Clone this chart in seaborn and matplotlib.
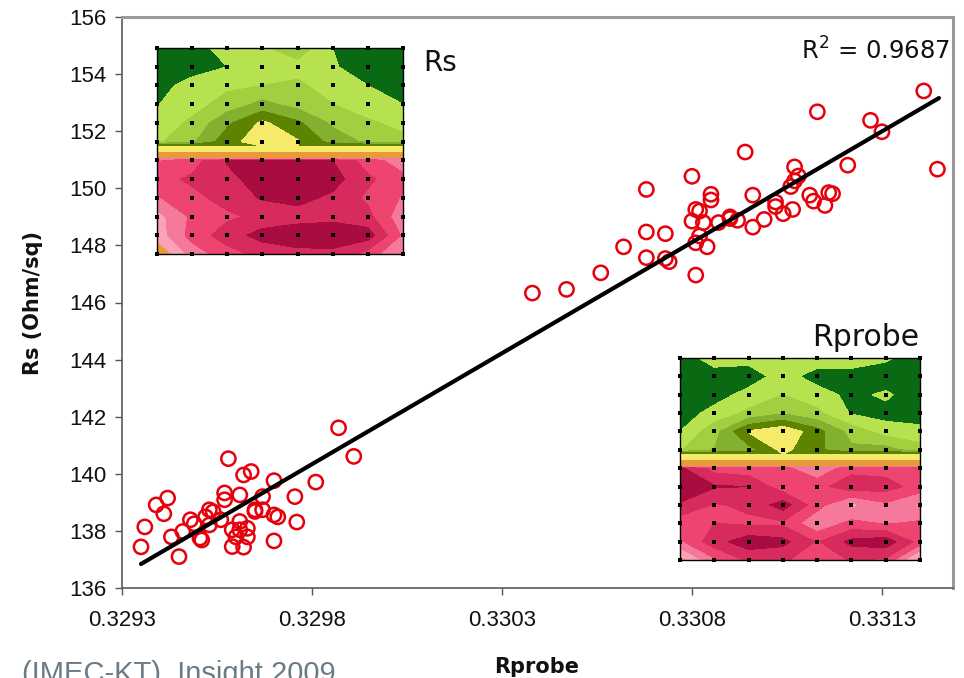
import numpy as np
import pandas as pd
import matplotlib
matplotlib.use("Agg")
import matplotlib.pyplot as plt
import seaborn as sns

sns.set_theme(style="white")
plt.rcParams['font.family'] = ['Liberation Sans', 'DejaVu Sans']

# Scatter values
rprobe_low = [0.32935, 0.32936, 0.32939, 0.32942, 0.32941, 0.32943, 0.32945, 0.32946, 0.32948,
              0.32949, 0.32951, 0.329505, 0.32953, 0.32953, 0.32952, 0.32954, 0.32956, 0.32957,
              0.32957, 0.32958, 0.32961, 0.32962, 0.32964, 0.32970, 0.32967, 0.32965, 0.32965,
              0.32967, 0.32970, 0.32971, 0.32970, 0.329755, 0.32976, 0.32981, 0.32991, 0.32987,
              0.32961, 0.32959, 0.32963, 0.32960, 0.32963, 0.32959, 0.32962, 0.32961]
rs_low = [137.44, 138.14, 138.91, 139.15, 138.60, 137.79, 137.10, 137.98, 138.39,
          138.25, 137.68, 137.75, 138.74, 138.21, 138.49, 138.67, 138.39, 139.33,
          139.09, 140.53, 139.26, 139.96, 140.08, 139.76, 139.20, 138.68, 138.74,
          138.74, 138.56, 138.49, 137.65, 139.20, 138.31, 139.71, 140.61, 141.61,
          138.33, 138.04, 138.09, 137.79, 137.79, 137.45, 137.43, 138.04]
rprobe_high = [0.33141, 0.331446, 0.33127, 0.33130, 0.33113, 0.33121, 0.33094, 0.33107, 0.33108,
               0.33107, 0.33106, 0.33080, 0.33068, 0.33085, 0.33085, 0.33096, 0.33116, 0.33117,
               0.33111, 0.33112, 0.33115, 0.33102, 0.33102, 0.331065, 0.33104, 0.33099, 0.33096,
               0.33081, 0.33082, 0.33080, 0.33083, 0.33087, 0.33090, 0.33090, 0.33092, 0.33068,
               0.33073, 0.33062, 0.33068, 0.33073, 0.33074, 0.33082, 0.33081, 0.33084, 0.33081,
               0.33056, 0.33047, 0.33038]
rs_high = [153.41, 150.67, 152.38, 151.98, 152.68, 150.81, 151.27, 150.75, 150.43,
           150.26, 150.06, 150.42, 149.96, 149.79, 149.59, 149.76, 149.85, 149.81,
           149.76, 149.55, 149.40, 149.52, 149.36, 149.26, 149.11, 148.91, 148.64,
           149.26, 149.20, 148.85, 148.80, 148.80, 149.00, 148.94, 148.88, 148.47,
           148.41, 147.95, 147.57, 147.54, 147.43, 148.33, 148.09, 147.95, 146.96,
           147.04, 146.46, 146.33]

# Trend line end points
trend_x = [0.32935, 0.33145]
trend_y = [136.84, 153.16]

x_ticks = [0.3293, 0.3298, 0.3303, 0.3308, 0.3313]
x_tick_labels = ["0.3293", "0.3298", "0.3303", "0.3308", "0.3313"]
y_ticks = [136, 138, 140, 142, 144, 146, 148, 150, 152, 154, 156]

# Wafer maps: one row per die row, colour class from the contour bands
rs_map = [
    [0.2, 0.5, 1.5, 1.8, 2.6, 1.0, 0.3, 0.2],
    [0.2, 0.4, 1.0, 1.5, 1.6, 1.1, 0.5, 0.2],
    [0.5, 1.5, 1.8, 2.0, 2.2, 1.5, 1.0, 0.4],
    [0.95, 1.6, 2.4, 3.3, 2.6, 2.0, 1.3, 1.0],
    [1.4, 2.2, 3.8, 5.2, 4.2, 2.8, 2.2, 1.6],
    [1.8, 2.8, 4.6, 5.6, 5.1, 3.6, 2.8, 2.4],
    [8.9, 9.5, 11.1, 11.4, 11.4, 11.0, 9.5, 8.4],
    [9.6, 10.2, 10.7, 11.5, 11.6, 11.4, 10.2, 9.3],
    [8.9, 9.7, 10.4, 11.1, 11.3, 10.8, 9.8, 8.9],
    [7.6, 9.2, 9.8, 10.3, 10.6, 10.7, 10.3, 8.3],
    [7.4, 9.4, 10.5, 11.4, 11.6, 11.7, 11.5, 8.8],
    [6.0, 8.4, 9.6, 10.3, 10.7, 10.7, 9.6, 7.8],
]
rprobe_map = [
    [0.2, 1.7, 1.4, 0.9, 1.6, 1.9, 1.2, 0.3],
    [0.2, 0.3, 0.4, 1.5, 0.5, 0.3, 0.3, 0.2],
    [0.2, 0.5, 1.4, 2.0, 1.5, 0.7, 1.2, 0.3],
    [0.4, 1.4, 2.2, 2.9, 2.2, 0.9, 0.6, 0.3],
    [1.0, 2.6, 5.1, 5.8, 4.4, 2.6, 1.5, 1.4],
    [1.9, 3.0, 3.6, 5.3, 4.2, 3.2, 3.4, 2.4],
    [11.2, 9.6, 9.3, 9.3, 8.2, 9.6, 9.6, 9.4],
    [11.6, 11.1, 11.0, 9.4, 9.6, 10.7, 10.4, 9.6],
    [10.9, 9.9, 10.2, 11.5, 9.4, 7.7, 8.8, 7.8],
    [9.4, 10.0, 9.8, 9.8, 8.2, 9.3, 8.9, 9.2],
    [8.8, 10.6, 11.6, 11.3, 9.9, 11.3, 11.6, 9.6],
    [6.5, 8.8, 10.2, 10.2, 9.2, 10.1, 9.8, 6.4],
]
# Narrow yellow/orange band between the green and the red half
band_rows = [5.25, 5.55, 5.88, 5.95]
band_values = [5.0, 6.0, 6.95, 9.0]
map_levels = [0, 1, 2, 3, 4, 5, 6, 7, 8, 9, 10, 11, 12]
map_colors = ["#0a6a14", "#b7e24f", "#a2cf40", "#84b030", "#5c8400", "#f6ea6a",
              "#e89a38", "#f9a3b5", "#f4799a", "#ee4470", "#d62b5c", "#a80c40"]

W, H = 964, 678


def px_axes(left, top, right, bottom):
    return fig.add_axes([left / W, 1 - bottom / H, (right - left) / W, (bottom - top) / H])


def draw_wafer(ax, grid):
    grid = np.array(grid)
    band = np.tile(np.array(band_values)[:, None], (1, grid.shape[1]))
    rows = np.r_[np.arange(6), band_rows, np.arange(6, 12)]
    values = np.vstack([grid[:6], band, grid[6:]])
    ax.contourf(np.arange(grid.shape[1]), rows, values, levels=map_levels, colors=map_colors)

    dots = pd.DataFrame({
        "col": np.tile(np.arange(grid.shape[1]), grid.shape[0]),
        "row": np.repeat(np.arange(grid.shape[0]), grid.shape[1]),
    })
    sns.scatterplot(data=dots, x="col", y="row", ax=ax, marker="s", s=9, color="black",
                    edgecolor="black", linewidth=0, clip_on=False, zorder=5, legend=False)
    ax.set_xlim(0, grid.shape[1] - 1)
    ax.set_ylim(grid.shape[0] - 1, 0)
    ax.set_xlabel("")
    ax.set_ylabel("")
    ax.set_xticks([])
    ax.set_yticks([])
    for spine in ax.spines.values():
        spine.set_visible(True)
        spine.set_color("black")
        spine.set_linewidth(1.0)


fig = plt.figure(figsize=(W / 100, H / 100), dpi=100, facecolor="white")
ax = px_axes(122, 17, 953, 588)

df = pd.DataFrame({"rprobe": rprobe_low + rprobe_high, "rs": rs_low + rs_high})

sns.scatterplot(data=df, x="rprobe", y="rs", ax=ax, marker="o", s=105, facecolors="none",
                edgecolor="#e6000c", linewidth=1.8, zorder=1, legend=False)
sns.lineplot(x=trend_x, y=trend_y, ax=ax, color="black", linewidth=3.0, zorder=2, legend=False)

ax.set_xlim(0.3293, 0.331487)
ax.set_ylim(136, 156)
ax.set_xticks(x_ticks)
ax.set_xticklabels(x_tick_labels)
ax.set_yticks(y_ticks)
ax.tick_params(axis="both", which="major", direction="out", length=5, width=1.0,
               color="#555555", labelcolor="#111111", labelsize=16)
ax.tick_params(axis="x", pad=11, bottom=True)
ax.tick_params(axis="y", pad=6, left=True)
ax.set_xlabel("")
ax.set_ylabel("")

ax.spines["left"].set_color("#5a5a5a")
ax.spines["bottom"].set_color("#5a5a5a")
ax.spines["left"].set_linewidth(1.2)
ax.spines["bottom"].set_linewidth(1.2)
ax.spines["top"].set_color("#9a9a9a")
ax.spines["right"].set_color("#9a9a9a")
ax.spines["top"].set_linewidth(2.2)
ax.spines["right"].set_linewidth(2.2)

# Wafer map insets
draw_wafer(px_axes(157, 48, 403, 254), rs_map)
draw_wafer(px_axes(680, 358, 920, 560), rprobe_map)

# Text
fig.text(440 / W, 1 - 63 / H, "Rs", family="DejaVu Sans", fontsize=20, ha="center", va="center", color="#111111")
fig.text(866 / W, 1 - 338 / H, "Rprobe", family="DejaVu Sans", fontsize=21.5, ha="center", va="center", color="#111111")
fig.text(950 / W, 1 - 51 / H, "R$^2$ = 0.9687", family="DejaVu Sans", fontsize=17.5, ha="right", va="center", color="#111111")
fig.text(33 / W, 1 - 303 / H, "Rs (Ohm/sq)", family="DejaVu Sans", fontweight="bold", fontsize=15,
         rotation=90, ha="center", va="center", color="#111111")
fig.text(537 / W, 1 - 667 / H, "Rprobe", family="DejaVu Sans", fontweight="bold", fontsize=15,
         ha="center", va="center", color="#111111")
fig.text(22 / W, 1 - 682 / H, "(IMEC-KT)  Insight 2009", fontsize=21, ha="left", va="baseline", color="#6b7b85")

fig.savefig("out.png", dpi=100)
